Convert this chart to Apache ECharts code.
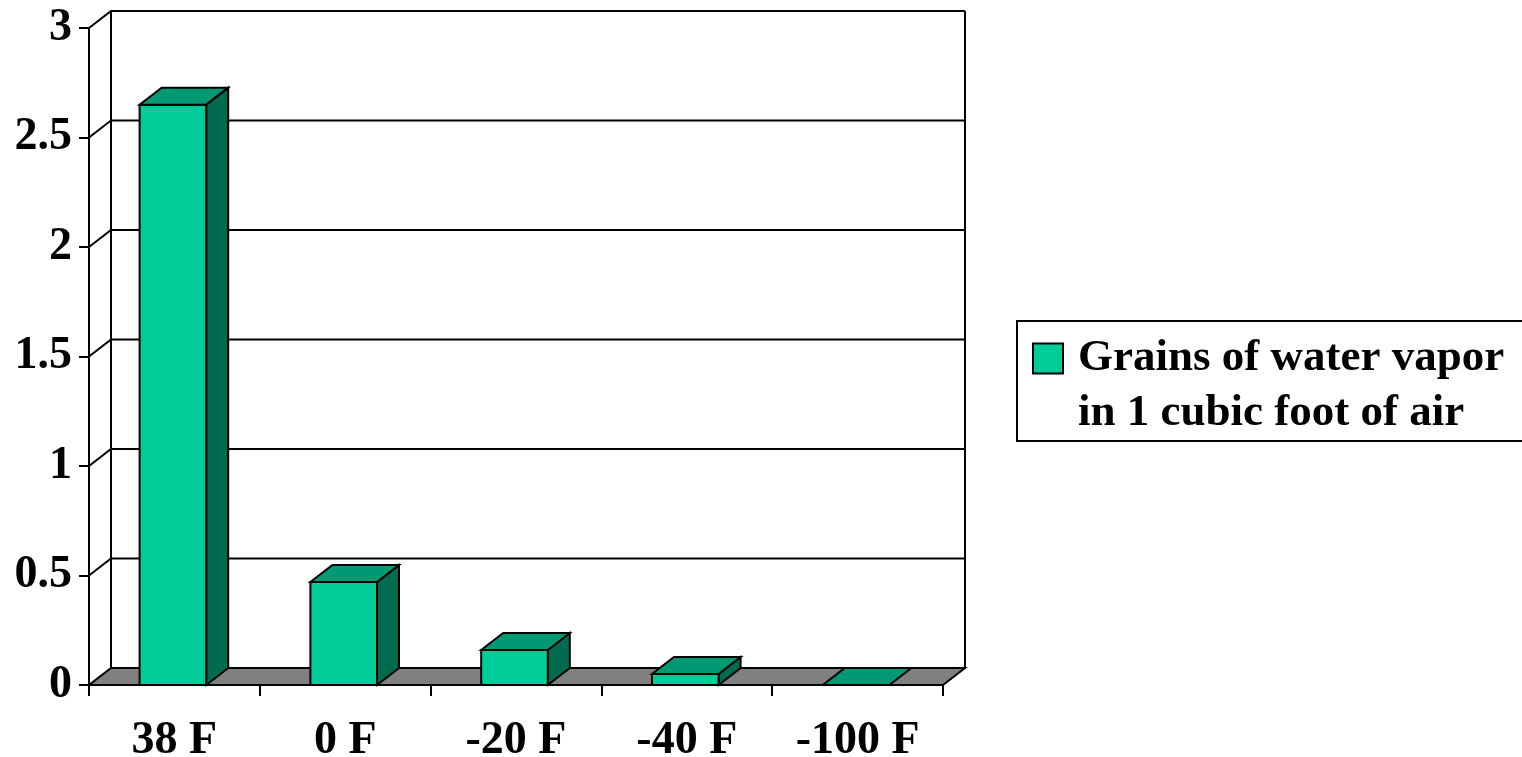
<!DOCTYPE html>
<html>
<head>
<meta charset="utf-8">
<script src="https://cdn.jsdelivr.net/npm/echarts@6/dist/echarts.min.js"></script>
<style>
html,body{margin:0;padding:0;background:#fff;}
#chart{width:1522px;height:757px;}
</style>
</head>
<body>
<div id="chart"></div>
<script>
const categories = ['38 F', '0 F', '-20 F', '-40 F', '-100 F'];
const values = [2.65, 0.47, 0.16, 0.05, 0];
const seriesName = 'Grains of water vapor\nin 1 cubic foot of air';
const yTickValues = [0, 0.5, 1, 1.5, 2, 2.5, 3];

const DX = 22, DY = -17;
const FONT = 'Liberation Serif';
const chart = echarts.init(document.getElementById('chart'), null, {renderer: 'canvas'});

function wallItem(params, api) {
  const cs = params.coordSys;
  const v = api.value(0);
  const y = api.coord([0, v])[1];
  const children = [];
  const style = {stroke: '#000', lineWidth: 2, fill: null};
  if (v > 0) {
    children.push({type: 'polyline', shape: {points: [[cs.x, y], [cs.x + DX, y + DY], [cs.x + cs.width + DX, y + DY]]}, style});
  }
  if (params.dataIndex === 0) {
    const top = api.coord([0, yTickValues[yTickValues.length - 1]])[1];
    children.push({type: 'line', shape: {x1: cs.x + DX, y1: top + DY, x2: cs.x + DX, y2: y + DY}, style});
    children.push({type: 'line', shape: {x1: cs.x + cs.width + DX, y1: top + DY, x2: cs.x + cs.width + DX, y2: y + DY}, style});
    children.push({type: 'polygon', shape: {points: [[cs.x, y], [cs.x + cs.width, y], [cs.x + cs.width + DX, y + DY], [cs.x + DX, y + DY]]},
      style: {fill: '#808080', stroke: '#000', lineWidth: 2}});
  }
  return {type: 'group', children};
}

function barItem(params, api) {
  const i = api.value(0), v = api.value(1);
  const topP = api.coord([i, v]);
  const baseP = api.coord([i, 0]);
  const bw = api.size([1, 0])[0] * 0.39;
  const x0 = topP[0] - bw / 2 - 1.5, x1 = x0 + bw;
  const t = topP[1], b = baseP[1];
  const line = {stroke: '#000', lineWidth: 2};
  const children = [];
  if (b - t > 0.5) {
    children.push({type: 'polygon', shape: {points: [[x1, t], [x1 + DX, t + DY], [x1 + DX, b + DY], [x1, b]]},
      style: Object.assign({fill: '#006B4F'}, line)});
    children.push({type: 'rect', shape: {x: x0, y: t, width: bw, height: b - t},
      style: Object.assign({fill: '#00CC99'}, line)});
  }
  children.push({type: 'polygon', shape: {points: [[x0, t], [x1, t], [x1 + DX, t + DY], [x0 + DX, t + DY]]},
    style: Object.assign({fill: '#009973'}, line)});
  return {type: 'group', children};
}

const option = {
  backgroundColor: '#fff',
  animation: false,
  grid: {left: 89, right: 579, top: 28, bottom: 72, containLabel: false, outerBoundsMode: 'none'},
  xAxis: {
    type: 'category',
    data: categories,
    boundaryGap: true,
    axisLine: {show: true, lineStyle: {color: '#000', width: 2}},
    axisTick: {show: true, alignWithLabel: false, length: 11, lineStyle: {color: '#000', width: 2}},
    axisLabel: {fontFamily: FONT, fontWeight: 'bold', fontSize: 46, color: '#000', margin: 33},
    splitLine: {show: false}
  },
  yAxis: {
    type: 'value',
    min: 0, max: 3, interval: 0.5,
    axisLine: {show: true, lineStyle: {color: '#000', width: 2}},
    axisTick: {show: true, length: 10, lineStyle: {color: '#000', width: 2}},
    axisLabel: {fontFamily: FONT, fontWeight: 'bold', fontSize: 46, color: '#000', margin: 17, padding: [12, 0, 0, 0]},
    splitLine: {show: false}
  },
  legend: {
    show: true,
    orient: 'vertical',
    left: 1032,
    top: 276,
    padding: 0,
    icon: 'rect',
    itemWidth: 30,
    itemHeight: 30,
    data: [seriesName],
    itemStyle: {borderColor: '#000', borderWidth: 2},
    formatter: function (name) {
      return '{s| }\n' + name.split('\n').map(function (l) { return '{a|' + l + '}'; }).join('\n');
    },
    textStyle: {
      fontFamily: FONT, fontWeight: 'bold', fontSize: 45, color: '#000', lineHeight: 55, padding: [0, 0, 0, 10],
      rich: {
        a: {fontFamily: FONT, fontWeight: 'bold', fontSize: 45, color: '#000', lineHeight: 55},
        s: {fontSize: 45, lineHeight: 55}
      }
    }
  },
  graphic: [{
    type: 'rect', left: 1016, top: 320, z: -1,
    shape: {width: 560, height: 120},
    style: {fill: '#fff', stroke: '#000', lineWidth: 2}
  }],
  series: [
    {
      type: 'custom', name: 'wall', z: 1, silent: true,
      renderItem: wallItem,
      encode: {y: 0},
      data: yTickValues.map(v => [v])
    },
    {
      type: 'custom', name: seriesName, z: 3,
      itemStyle: {color: '#00CC99'},
      renderItem: barItem,
      encode: {x: 0, y: 1},
      data: values.map((v, i) => [i, v])
    }
  ]
};
chart.setOption(option);
</script>
</body>
</html>
